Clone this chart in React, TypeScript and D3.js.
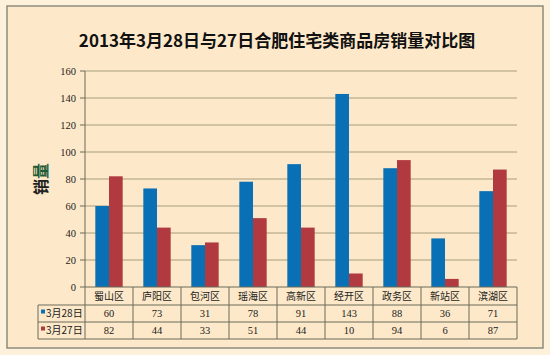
import React from "react";
import * as d3 from "d3";

const categories = ["蜀山区", "庐阳区", "包河区", "瑶海区", "高新区", "经开区", "政务区", "新站区", "滨湖区"];
const seriesNames = ["3月28日", "3月27日"];
const values28 = [60, 73, 31, 78, 91, 143, 88, 36, 71];
const values27 = [82, 44, 33, 51, 44, 10, 94, 6, 87];
const yTicks = [0, 20, 40, 60, 80, 100, 120, 140, 160];
const seriesColors = ["#0a70b5", "#b03a40"];

const W = 550, H = 355;
const plotL = 85, plotR = 517, plotT = 71, plotB = 287;
const rowTops = [287, 305, 322, 339];
const legendL = 38;

export default function App() {
  const x = d3.scaleBand<string>().domain(categories).range([plotL, plotR]).padding(0);
  const bw = x.bandwidth();
  const xi = d3.scaleBand<string>().domain(seriesNames).range([bw * 0.215, bw * 0.785]);
  const y = d3.scaleLinear().domain([0, 160]).range([plotB, plotT]);
  const series = [values28, values27];
  const numFont = "'Liberation Serif', 'DejaVu Serif', serif";
  const cjkFont = "'Noto Sans CJK SC', sans-serif";
  const lineCol = "#6b6b58";
  const gridCol = "#a69c7c";

  return (
    <svg width={W} height={H} style={{ position: "absolute", left: 0, top: 0 }}>
      <rect x={0} y={0} width={W} height={H} fill="#fef1dc" />
      <rect x={7} y={6} width={536} height={342} fill="#fde9c9" stroke="#8c8c7c" strokeWidth={1.5} />
      <text x={277} y={47} textAnchor="middle" fontFamily={cjkFont} fontWeight="bold" fontSize={17} fill="#111">
        2013年3月28日与27日合肥住宅类商品房销量对比图
      </text>
      {/* gridlines */}
      {yTicks.map((t) => (
        <g key={t}>
          {t > 0 && <line x1={plotL} x2={plotR} y1={y(t)} y2={y(t)} stroke={gridCol} strokeWidth={1} />}
          <line x1={plotL - 5} x2={plotL} y1={y(t)} y2={y(t)} stroke={lineCol} strokeWidth={1} />
          <text x={76} y={y(t) + 3.5} textAnchor="end" fontFamily={numFont} fontSize={10.5} fill="#222">
            {t}
          </text>
        </g>
      ))}
      <line x1={plotL} x2={plotL} y1={plotT} y2={plotB} stroke={lineCol} strokeWidth={1} />
      {/* y label */}
      <text
        transform={`translate(47,179) rotate(-90)`}
        textAnchor="middle"
        fontFamily={cjkFont}
        fontWeight="bold"
        fontSize={16}
        fill="#222"
      >
        <tspan fill="#222">销</tspan>
        <tspan fill="#1d5c3a">量</tspan>
      </text>
      {/* bars */}
      {series.map((vals, si) =>
        vals.map((v, i) => (
          <rect
            key={`${si}-${i}`}
            x={(x(categories[i]) as number) + (xi(seriesNames[si]) as number)}
            y={y(v)}
            width={xi.bandwidth()}
            height={plotB - y(v)}
            fill={seriesColors[si]}
          />
        ))
      )}
      {/* data table */}
      <g fill="none" stroke={lineCol} strokeWidth={1}>
        <line x1={plotL} x2={plotR} y1={rowTops[0]} y2={rowTops[0]} />
        <line x1={legendL} x2={plotR} y1={rowTops[1]} y2={rowTops[1]} />
        <line x1={legendL} x2={plotR} y1={rowTops[2]} y2={rowTops[2]} />
        <line x1={legendL} x2={plotR} y1={rowTops[3]} y2={rowTops[3]} />
        <line x1={legendL} x2={legendL} y1={rowTops[1]} y2={rowTops[3]} />
        {categories.map((c) => (
          <line key={c} x1={x(c) as number} x2={x(c) as number} y1={rowTops[0]} y2={rowTops[3]} />
        ))}
        <line x1={plotR} x2={plotR} y1={rowTops[0]} y2={rowTops[3]} />
      </g>
      {categories.map((c) => (
        <text
          key={c}
          x={(x(c) as number) + bw / 2}
          y={(rowTops[0] + rowTops[1]) / 2 + 3.5}
          textAnchor="middle"
          fontFamily={cjkFont}
          fontSize={10}
          fill="#222"
        >
          {c}
        </text>
      ))}
      {series.map((vals, si) => (
        <g key={si}>
          <rect x={41} y={(rowTops[si + 1] + rowTops[si + 2]) / 2 - 4} width={4} height={4} fill={seriesColors[si]} />
          <text x={46} y={(rowTops[si + 1] + rowTops[si + 2]) / 2 + 3.5} fontFamily={cjkFont} fontSize={10} fill="#222">
            {seriesNames[si]}
          </text>
          {vals.map((v, i) => (
            <text
              key={i}
              x={(x(categories[i]) as number) + bw / 2}
              y={(rowTops[si + 1] + rowTops[si + 2]) / 2 + 3.5}
              textAnchor="middle"
              fontFamily={numFont}
              fontSize={10.5}
              fill="#222"
            >
              {v}
            </text>
          ))}
        </g>
      ))}
    </svg>
  );
}
